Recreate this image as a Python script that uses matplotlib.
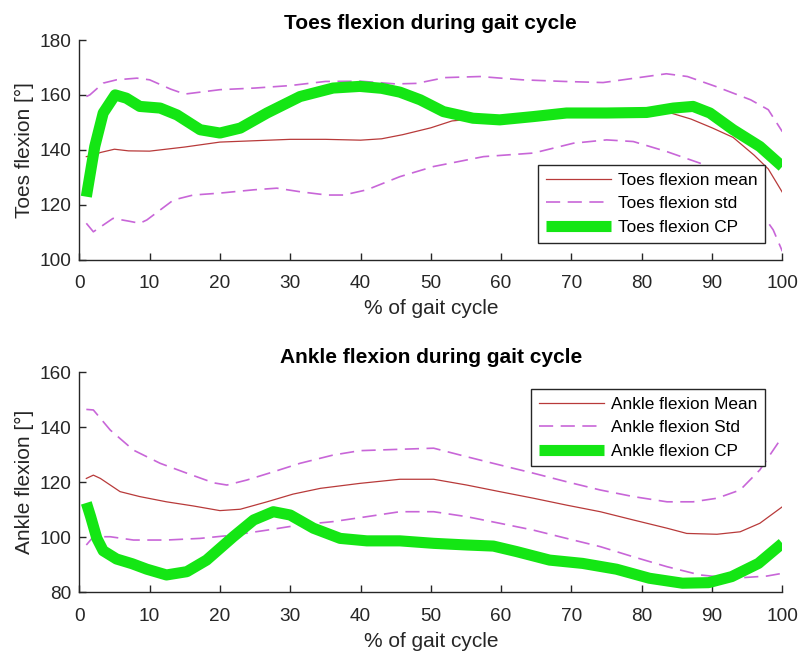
import matplotlib

matplotlib.use("Agg")
import matplotlib.pyplot as plt

OUTPUT_PNG = "out.png"

# --- Toes flexion (top panel) ---
TOES_MEAN_X = [1, 2, 3, 5, 7, 10, 15, 20, 25, 30, 35, 40, 43, 46, 50, 53, 57, 60,
               65, 70, 75, 80, 84, 87, 90, 93, 96, 98, 100]
TOES_MEAN_Y = [137.5, 138, 139, 140.2, 139.6, 139.5, 141, 142.8, 143.3, 143.8, 143.8,
               143.5, 144, 145.5, 148, 150.5, 151.5, 151.5, 152.3, 153, 153.3, 153.5,
               153.5, 151.2, 148, 144.5, 138, 133, 124.5]

TOES_STD_UP_X = [1, 1.5, 3.4, 5.3, 8.2, 10, 13, 15, 20, 25, 30, 35, 40, 45, 48, 52,
                 57, 63, 69, 74.5, 79, 83.5, 86.5, 90.5, 95.5, 98, 100]
TOES_STD_UP_Y = [159.4, 160, 164.3, 165.5, 166.1, 165.5, 162.1, 160.3, 161.9, 162.5,
                 163.4, 164.9, 165, 164, 164.2, 166.3, 166.7, 165.5, 164.9, 164.5,
                 166.1, 167.7, 166.7, 163.1, 158.2, 154.6, 146.6]

TOES_STD_LO_X = [1, 2, 4.8, 7, 8.6, 9.6, 13.4, 16.2, 20, 24.8, 28.1, 31.4, 35.2, 37.6,
                 40.9, 45.6, 50.4, 57.5, 64.6, 70.3, 75, 78.8, 83.6, 88.3, 91.1, 93,
                 95, 97, 98.7, 100]
TOES_STD_LO_Y = [113.2, 110.1, 115, 114, 113.2, 114.4, 121.7, 123.5, 124.2, 125.4, 126,
                 124.7, 123.5, 123.5, 125.4, 130.2, 133.9, 137.5, 138.8, 142.4, 143.6,
                 143, 139.3, 135.1, 132.7, 129, 124, 117, 110.8, 103]

TOES_CP_X = [1, 2.2, 3.4, 5.1, 6.7, 8.6, 11.5, 13.9, 17.2, 20, 22.9, 26.7, 31.4, 36.1,
             39.9, 43, 45.6, 48.5, 51.8, 56, 59.8, 64.6, 69.3, 75, 80.7, 84.5, 87.3,
             89.7, 93, 96.8, 100]
TOES_CP_Y = [122.9, 141.2, 153.4, 160, 158.8, 155.8, 155.2, 152.7, 147.3, 146.1, 147.9,
             153.4, 159.4, 162.5, 163.1, 162.4, 161, 158.2, 153.9, 151.5, 150.9, 152.1,
             153.4, 153.4, 153.6, 155.2, 155.8, 153.4, 147.3, 141.2, 133.9]

# --- Ankle flexion (bottom panel) ---
ANKLE_MEAN_X = [1, 2, 3, 5.8, 8.6, 12.4, 16.2, 20, 22.9, 26.7, 30.4, 34.3, 39.9, 45.6,
                50.4, 55.1, 59.8, 64.6, 69.3, 74.1, 78.8, 83.6, 86.4, 90.7, 94, 96.8, 100]
ANKLE_MEAN_Y = [121.3, 122.5, 121.3, 116.5, 114.7, 112.8, 111.3, 109.6, 110.1, 112.8,
                115.6, 117.7, 119.5, 121, 121, 118.9, 116.5, 114.1, 111.6, 109.2, 106.2,
                103.2, 101.3, 101, 101.9, 105, 111]

ANKLE_STD_UP_X = [1, 2, 4.4, 7.7, 11.5, 15.3, 19.1, 21, 23.8, 27.6, 31.4, 36.1, 39.9,
                  45.6, 50.4, 55.1, 59.8, 64.6, 69.3, 74.1, 78.8, 83.6, 87.3, 90.7, 94,
                  96.8, 100]
ANKLE_STD_UP_Y = [146.4, 146.2, 138.9, 131.6, 126.8, 123.2, 119.7, 118.9, 120.7, 123.7,
                  126.8, 129.8, 131.4, 131.9, 132.3, 129.2, 126.2, 123.2, 120.1, 117.1,
                  114.7, 112.8, 112.8, 114.1, 117.1, 124.4, 136.5]

ANKLE_STD_LO_X = [1, 2, 4.4, 7.7, 12.4, 17.2, 21.9, 26.7, 31.4, 36.1, 40.9, 45.6, 50.4,
                  55.1, 59.8, 64.6, 69.3, 74.1, 78.8, 83.6, 88.3, 93, 97.8, 100]
ANKLE_STD_LO_Y = [97.1, 100.1, 100.1, 98.9, 98.9, 99.5, 100.7, 102.5, 104.4, 105.6,
                  107.4, 109.2, 109.2, 107.4, 105, 102.5, 99.5, 96.5, 92.8, 89.2, 86.2,
                  85, 85.8, 86.8]

ANKLE_CP_X = [1, 1.6, 2.5, 3.4, 5.3, 7.5, 9.6, 12.4, 15.3, 18.1, 21.9, 24.8, 27.6, 30,
              33.3, 37.1, 40.9, 45.6, 50.4, 55.1, 58.9, 62.2, 66.9, 71.6, 76.4, 81.1,
              85.8, 89.5, 92.8, 96.6, 100]
ANKLE_CP_Y = [112.4, 107.5, 99.5, 95, 92, 90.3, 88.3, 86.2, 87.4, 91.6, 100.1, 106.2,
              109.2, 108, 103.2, 99.5, 98.6, 98.6, 97.7, 97.1, 96.7, 94.7, 91.6, 90.4,
              88.3, 85, 83.2, 83.4, 85.6, 90.4, 97.7]

MEAN_COLOR = "#b83a3a"
STD_COLOR = "#c866d8"
CP_COLOR = "#14e614"
AXIS_COLOR = "#262626"


def draw_panel(ax, mean, std_up, std_lo, cp, labels, ylim, title, ylabel,
               legend_loc, title_pad):
    ax.plot(*mean, color=MEAN_COLOR, lw=0.9, label=labels[0])
    ax.plot(*std_up, color=STD_COLOR, lw=1.2, linestyle=(0, (8.5, 4.5)), label=labels[1])
    ax.plot(*std_lo, color=STD_COLOR, lw=1.2, linestyle=(0, (8.5, 4.5)))
    ax.plot(*cp, color=CP_COLOR, lw=8, solid_capstyle="butt",
            solid_joinstyle="round", label=labels[2])

    ax.set_xlim(0, 100)
    ax.set_ylim(*ylim)
    ax.set_xticks(range(0, 101, 10))
    ax.set_yticks(range(ylim[0], ylim[1] + 1, 20))

    for side in ["top", "right"]:
        ax.spines[side].set_visible(False)
    for side in ["left", "bottom"]:
        ax.spines[side].set_color(AXIS_COLOR)
        ax.spines[side].set_linewidth(1.0)

    ax.tick_params(direction="in", length=5, width=1.0, colors=AXIS_COLOR,
                   labelsize=13.7, labelcolor=AXIS_COLOR)
    ax.tick_params(axis="x", pad=11.5)
    ax.tick_params(axis="y", pad=6)

    ax.set_title(title, fontsize=15, fontweight="bold", pad=title_pad)
    ax.set_xlabel("% of gait cycle", fontsize=15, color=AXIS_COLOR, labelpad=5)
    ax.set_ylabel(ylabel, fontsize=15, color=AXIS_COLOR, labelpad=4)

    leg = ax.legend(loc=legend_loc, fontsize=12.4, fancybox=False, framealpha=1,
                    edgecolor=AXIS_COLOR, handlelength=3.8, handletextpad=0.4,
                    labelspacing=0.49, borderpad=0.45, borderaxespad=0.98)
    leg.get_frame().set_linewidth(1.0)


def main():
    plt.rcParams["font.family"] = ["Liberation Sans", "DejaVu Sans"]

    fig = plt.figure(figsize=(8.01, 6.53), dpi=100)
    ax_top = fig.add_axes([0.099, 0.6026, 0.8777, 0.3361])
    ax_bot = fig.add_axes([0.099, 0.0934, 0.8777, 0.3369])

    draw_panel(
        ax_top,
        (TOES_MEAN_X, TOES_MEAN_Y),
        (TOES_STD_UP_X, TOES_STD_UP_Y),
        (TOES_STD_LO_X, TOES_STD_LO_Y),
        (TOES_CP_X, TOES_CP_Y),
        ["Toes flexion mean", "Toes flexion std", "Toes flexion CP"],
        (100, 180),
        "Toes flexion during gait cycle",
        "Toes flexion [°]",
        "lower right",
        8.0,
    )
    draw_panel(
        ax_bot,
        (ANKLE_MEAN_X, ANKLE_MEAN_Y),
        (ANKLE_STD_UP_X, ANKLE_STD_UP_Y),
        (ANKLE_STD_LO_X, ANKLE_STD_LO_Y),
        (ANKLE_CP_X, ANKLE_CP_Y),
        ["Ankle flexion Mean", "Ankle flexion Std", "Ankle flexion CP"],
        (80, 160),
        "Ankle flexion during gait cycle",
        "Ankle flexion [°]",
        "upper right",
        6.5,
    )

    fig.savefig(OUTPUT_PNG, dpi=100)
    plt.close(fig)


if __name__ == "__main__":
    main()
